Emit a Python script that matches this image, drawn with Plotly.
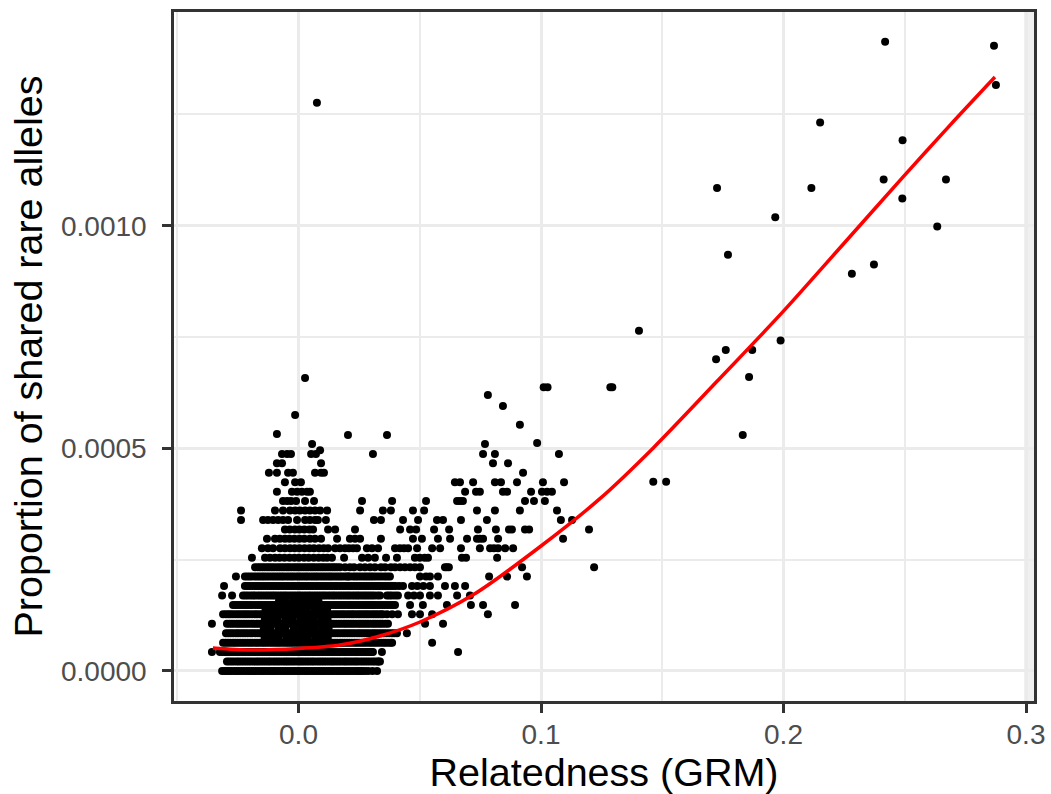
import plotly.graph_objects as go

# Shared-allele levels (discrete proportions on the y axis)
level_y = [0.0, 0.0000212, 0.0000424, 0.0000636, 0.0000848, 0.000106, 0.0001272, 0.0001484,
           0.0001696, 0.0001908, 0.000212, 0.0002332, 0.0002544, 0.0002756, 0.0002968, 0.000318,
           0.0003392, 0.0003604, 0.0003816, 0.0004028, 0.000424, 0.0004452, 0.0004664, 0.0004876]

level_x = [
 [-.0315,-.0295,-.0276,-.0255,-.0235,-.0214,-.0195,-.0176,-.0155,-.0135,-.0114,-.0096,-.0075,-.0055,-.0034,-.0015,.0005,.0025,.0044,.0065,.0085,.0104,.0125,.0145,.0166,.0185,.0205,.0225,.0246,.0262,.0274,.0287,.0305,.0324],
 [-.0295,-.0275,-.0254,-.0235,-.0215,-.0195,-.0174,-.0155,-.0135,-.0116,-.0095,-.0075,-.0054,-.0035,-.0015,.0006,.0025,.0045,.0064,.0085,.0105,.0126,.0145,.0165,.0186,.0205,.0225,.0244,.0265,.0285,.0306,.0325,.0336],
 [-.0357,-.0324,-.0303,-.0284,-.0264,-.0245,-.0224,-.0204,-.0185,-.0165,-.0144,-.0125,-.0105,-.0084,-.0065,-.0045,-.0024,-.0005,.0015,.0035,.0056,.0075,.0095,.0116,.0135,.0155,.0174,.0195,.0215,.0236,.0255,.0275,.0295,.0307,.0344,.0658],
 [-.0311,-.0291,-.0270,-.0251,-.0231,-.0210,-.0190,-.0171,-.0150,-.0131,-.0110,-.0090,-.0071,-.0050,-.0031,-.0010,.0010,.0030,.0049,.0070,.0090,.0111,.0130,.0150,.0171,.0190,.0210,.0231,.0250,.0270,.0291,.0310,.0330,.0351,.0370,.0386,.0551],
 [-.0299,-.0279,-.0258,-.0239,-.0219,-.0198,-.0178,-.0159,-.0138,-.0119,-.0098,-.0078,-.0059,-.0038,-.0019,.0002,.0022,.0042,.0061,.0082,.0102,.0123,.0142,.0162,.0183,.0202,.0222,.0243,.0262,.0282,.0303,.0322,.0342,.0363,.0385,.0406,.0447],
 [-.0357,-.0295,-.0275,-.0254,-.0235,-.0215,-.0194,-.0174,-.0155,-.0134,-.0115,-.0094,-.0074,-.0055,-.0034,-.0015,.0006,.0026,.0046,.0065,.0086,.0106,.0127,.0146,.0166,.0187,.0206,.0226,.0247,.0266,.0286,.0307,.0326,.0346,.0369,.0522,.0596],
 [-.0311,-.0290,-.0271,-.0250,-.0230,-.0211,-.0190,-.0171,-.0150,-.0130,-.0111,-.0090,-.0071,-.0050,-.0030,-.0011,.0010,.0029,.0050,.0070,.0089,.0110,.0129,.0150,.0170,.0189,.0210,.0229,.0250,.0270,.0289,.0310,.0330,.0348,.0365,.0386,.0410,.0468,.0501,.0551,.0781],
 [-.0270,-.0250,-.0229,-.0210,-.0190,-.0169,-.0149,-.0130,-.0109,-.0090,-.0069,-.0049,-.0030,-.0009,.0010,.0031,.0051,.0071,.0090,.0111,.0131,.0152,.0171,.0191,.0212,.0231,.0251,.0272,.0291,.0307,.0315,.0335,.0356,.0378,.0398,.0460,.0513,.0612,.0711,.0761,.0893],
 [-.0315,-.0274,-.0229,-.0209,-.0188,-.0169,-.0149,-.0128,-.0108,-.0089,-.0068,-.0049,-.0028,-.0008,.0011,.0032,.0051,.0072,.0092,.0111,.0132,.0151,.0172,.0192,.0211,.0232,.0251,.0272,.0292,.0312,.0336,.0365,.0385,.0410,.0452,.0476,.0501,.0542,.0575,.0654,.0707],
 [-.0307,-.0221,-.0201,-.0180,-.0161,-.0141,-.0120,-.0100,-.0081,-.0060,-.0041,-.0020,.0000,.0019,.0040,.0059,.0080,.0100,.0119,.0140,.0159,.0180,.0200,.0219,.0240,.0259,.0280,.0300,.0320,.0336,.0357,.0378,.0400,.0431,.0468,.0490,.0515,.0542,.0604,.0645,.0687],
 [-.0258,-.0221,-.0201,-.0181,-.0160,-.0141,-.0121,-.0100,-.0080,-.0061,-.0040,-.0021,.0000,.0020,.0039,.0060,.0079,.0100,.0120,.0139,.0160,.0179,.0200,.0212,.0225,.0245,.0267,.0287,.0307,.0330,.0355,.0377,.0501,.0526,.0542,.0575,.0786,.0860,.0942],
 [-.0179,-.0159,-.0139,-.0120,-.0100,-.0079,-.0059,-.0040,-.0019,.0000,.0021,.0041,.0060,.0081,.0100,.0121,.0141,.0160,.0171,.0192,.0212,.0229,.0254,.0274,.0295,.0315,.0340,.0357,.0381,.0398,.0419,.0439,.0460,.0480,.0501,.0604,.0612,.0620,.0922,.1219],
 [-.0192,-.0138,-.0118,-.0097,-.0078,-.0058,-.0037,-.0017,.0002,.0023,.0042,.0063,.0083,.0102,.0118,.0138,.0188,.0262,.0287,.0315,.0361,.0406,.0480,.0500,.0520,.0534,.0674,.0691,.0819],
 [-.0151,-.0126,-.0105,-.0076,-.0056,-.0035,-.0016,.0004,.0025,.0045,.0064,.0085,.0104,.0122,.0151,.0171,.0192,.0208,.0225,.0241,.0282,.0303,.0328,.0398,.0418,.0435,.0452,.0489,.0551,.0584,.0670,.0748,.0790,.0806,.0823,.0852,.0885],
 [-.0130,-.0097,-.0077,-.0056,-.0037,-.0017,.0004,.0024,.0047,.0068,.0093,.0159,.0212,.0233,.0254,.0340,.0472,.0509,.0575,.0625,.0695,.0736,.0748,.0761,.0823,.1091],
 [-.0056,-.0036,-.0015,.0004,.0024,.0045,.0060,.0122,.0151,.0233,.0419,.0460,.0485,.0559,.0621,.0740,.0814,.0868,.0880,.0934,.0951,.1198],
 [-.0237,-.0146,-.0126,-.0105,-.0084,-.0064,-.0043,-.0006,.0027,.0047,.0068,.0080,.0113,.0311,.0340,.0431,.0493,.0571,.0596,.0670,.0777,.1082,.1128],
 [-.0237,-.0097,-.0064,-.0035,-.0014,.0006,.0027,.0047,.0068,.0089,.0118,.0254,.0348,.0381,.0472,.0518,.0736,.0810,.0913,.1066],
 [-.0064,-.0047,-.0031,-.0010,.0027,.0064,.0262,.0386,.0526,.0654,.0666,.0678,.0934,.0971,.1016],
 [-.0089,-.0027,-.0006,.0014,.0035,.0047,.0687,.0732,.0748,.0843,.0860,.0959,.1004,.1025,.1045],
 [-.0056,-.0014,.0010,.0645,.0666,.0720,.0810,.0835,.0901,.1008,.1095],
 [-.0122,-.0089,-.0043,-.0023,.0068,.0093,.0105,.0926],
 [-.0089,-.0068,.0093,.0802,.0864],
 [-.0068,-.0047,-.0031,.0052,.0072,.0307,.0761,.0810,.1074],
]

# Further pairs on the crowded lower levels (same y levels, first twelve)
level_more_x = [
 [-.0305,-.0286,-.0265,-.0245,-.0225,-.0204,-.0186,-.0165,-.0145,-.0124,-.0105,-.0085,-.0065,-.0044,-.0025,-.0005,.0015,.0034,.0055,.0075,.0095,.0115,.0135,.0156,.0175,.0195,.0215,.0236,.0254],
 [-.0285,-.0265,-.0245,-.0225,-.0205,-.0184,-.0165,-.0145,-.0125,-.0105,-.0085,-.0064,-.0045,-.0025,-.0004,.0015,.0035,.0055,.0075,.0095,.0115,.0136,.0155,.0175,.0195,.0215,.0235,.0255,.0275,.0295,.0315,.0330],
 [-.0313,-.0294,-.0274,-.0254,-.0234,-.0214,-.0195,-.0175,-.0155,-.0135,-.0115,-.0095,-.0075,-.0055,-.0035,-.0015,.0005,.0025,.0045,.0065,.0085,.0105,.0125,.0145,.0165,.0185,.0205,.0225,.0245,.0265,.0285,.0300],
 [-.0301,-.0281,-.0261,-.0241,-.0221,-.0200,-.0181,-.0161,-.0141,-.0120,-.0100,-.0081,-.0060,-.0041,-.0021,.0000,.0020,.0040,.0060,.0080,.0100,.0120,.0140,.0160,.0180,.0200,.0220,.0240,.0260,.0280,.0300,.0320,.0341,.0360,.0380],
 [-.0289,-.0269,-.0249,-.0229,-.0209,-.0189,-.0169,-.0149,-.0129,-.0109,-.0089,-.0069,-.0049,-.0029,-.0009,.0012,.0032,.0052,.0072,.0092,.0112,.0132,.0152,.0172,.0192,.0212,.0232,.0252,.0272,.0292,.0312,.0332,.0352,.0374,.0395],
 [-.0285,-.0265,-.0245,-.0225,-.0205,-.0184,-.0165,-.0145,-.0125,-.0105,-.0085,-.0064,-.0045,-.0025,-.0005,.0016,.0036,.0056,.0076,.0096,.0116,.0137,.0156,.0176,.0196,.0216,.0236,.0256,.0276,.0296,.0316,.0336,.0358],
 [-.0300,-.0281,-.0260,-.0240,-.0220,-.0201,-.0180,-.0160,-.0140,-.0120,-.0100,-.0080,-.0060,-.0040,-.0020,.0000,.0020,.0040,.0060,.0080,.0100,.0120,.0140,.0160,.0180,.0200,.0220,.0240,.0260,.0280,.0300,.0320,.0340],
 [-.0260,-.0240,-.0219,-.0200,-.0179,-.0159,-.0139,-.0119,-.0100,-.0079,-.0059,-.0039,-.0019,.0000,.0021,.0041,.0061,.0081,.0101,.0121,.0142,.0161,.0181,.0202,.0221,.0241,.0262,.0282,.0300,.0325,.0346,.0367,.0388],
 [-.0219,-.0198,-.0179,-.0159,-.0138,-.0118,-.0099,-.0078,-.0058,-.0038,-.0018,.0002,.0022,.0042,.0062,.0082,.0102,.0122,.0142,.0162,.0182,.0202,.0222,.0242,.0262,.0282,.0302,.0325,.0375,.0398],
 [-.0211,-.0190,-.0171,-.0151,-.0130,-.0110,-.0090,-.0070,-.0050,-.0030,-.0010,.0010,.0030,.0050,.0070,.0090,.0110,.0130,.0150,.0170,.0190,.0210,.0230,.0250,.0270,.0290,.0310,.0328,.0347,.0367,.0389,.0415],
 [-.0211,-.0191,-.0170,-.0150,-.0131,-.0110,-.0090,-.0070,-.0050,-.0030,-.0010,.0010,.0030,.0050,.0070,.0090,.0110,.0130,.0150,.0170,.0190,.0205,.0235,.0256,.0277,.0297,.0318,.0342,.0366],
 [-.0169,-.0149,-.0129,-.0110,-.0089,-.0069,-.0049,-.0030,-.0010,.0010,.0031,.0051,.0070,.0091,.0110,.0131,.0150],
]

# Values lying between the main levels in the densest part of the cloud
between_y = [0.0000742, 0.0000954, 0.0001166, 0.0001378, 0.000159]
between_x = [
 [-.0140,-.0112,-.0083,-.0051,-.0022,.0009,.0036,.0068,.0094,.0121],
 [-.0143,-.0115,-.0081,-.0054,-.0019,.0011,.0039,.0066,.0097,.0124],
 [-.0139,-.0110,-.0085,-.0052,-.0024,.0007,.0038,.0064,.0095,.0120],
 [-.0136,-.0108,-.0079,-.0050,-.0021,.0010,.0035,.0067,.0092,.0118],
 [-.0080,-.0052,-.0021,.0006,.0032,.0060,.0082],
]

outlier_x = [.0076,.0027,-.0014,-.0089,.0204,.0365,.0056,.0089,.0781,.0843,.0913,.0769,.0984,
             .1011,.1027,.1286,.1294,.1404,.1463,.1516,.1722,.1726,.1762,.1771,.1832,.1858,.1871,.1966,.1988,
             .2115,.2151,.2282,.2373,.2413,.2419,.2490,.2491,.2634,.2670,.2868,.2876]
outlier_y = [.001276,.000658,.000575,.000532,.00053,.00053,.00051,.000496,.00062,.000595,.000553,.00051,.000512,
             .000637,.000637,.000637,.000637,.000764,.000425,.000425,.0007,.001085,.000721,.000935,.00053,.00066,.000721,.001019,.000742,
             .001085,.001232,.000892,.000913,.001104,.001413,.001061,.001192,.000998,.001104,.001404,.001316]

smooth_x = [-.0353,-.0200,0,.0171,.0336,.0501,.0720,.0996,.1243,.1463,.1725,.1998,.2247,.2497,.2687,.2872]
smooth_y = [.0000517,.0000472,.0000505,.0000584,.0000786,.00011,.000171,.000279,.000387,.000501,.00065,.000807,.000959,.001112,.001226,.001334]

px, py = [], []
for y, xs in list(zip(level_y, level_x)) + list(zip(level_y, level_more_x)) + list(zip(between_y, between_x)):
    px += xs
    py += [y] * len(xs)
px += outlier_x
py += outlier_y

GRID = "#EBEBEB"
INK = "#333333"
fig = go.Figure()
fig.add_trace(go.Scatter(x=px, y=py, mode="markers", marker=dict(color="black", size=8), showlegend=False))
fig.add_trace(go.Scatter(x=smooth_x, y=smooth_y, mode="lines", line=dict(color="#FF0000", width=3.5, shape="spline", smoothing=0.8), showlegend=False))

common = dict(showline=True, linecolor=INK, linewidth=2.5, mirror=True, ticks="outside", ticklen=9, tickwidth=2.5,
              tickcolor=INK, gridcolor=GRID, gridwidth=3, zeroline=False,
              tickfont=dict(family="Liberation Sans", size=28, color="#4D4D4D"))
fig.update_xaxes(range=[-.05134, .3033], tick0=0, dtick=0.1, tickformat=".1f", ticklabelstandoff=-2,
                 minor=dict(dtick=0.05, tick0=0, showgrid=True, gridcolor=GRID, gridwidth=1.5, ticks=""),
                 title=dict(text="Relatedness (GRM)", standoff=4, font=dict(family="Liberation Sans", size=39.5, color="black")), **common)
fig.update_yaxes(range=[-.0000674, .00148], tick0=0, dtick=0.0005, tickformat=".4f", ticklabelstandoff=10,
                 minor=dict(dtick=0.00025, tick0=0, showgrid=True, gridcolor=GRID, gridwidth=1.5, ticks=""),
                 title=dict(text="Proportion of shared rare alleles", standoff=7, font=dict(family="Liberation Sans", size=39.5, color="black")), **common)
fig.add_shape(type="rect", xref="x", yref="paper", x0=.2992, x1=.3033, y0=0, y1=1, layer="below", line_width=0, fillcolor="#F0F0F0")
fig.update_layout(width=1051, height=794, autosize=False, paper_bgcolor="white", plot_bgcolor="white",
                  margin=dict(l=174, r=17, t=12, b=93, autoexpand=False))
fig.write_html("out.html", config=dict(displayModeBar=False), post_script="document.body.style.margin='0';")
